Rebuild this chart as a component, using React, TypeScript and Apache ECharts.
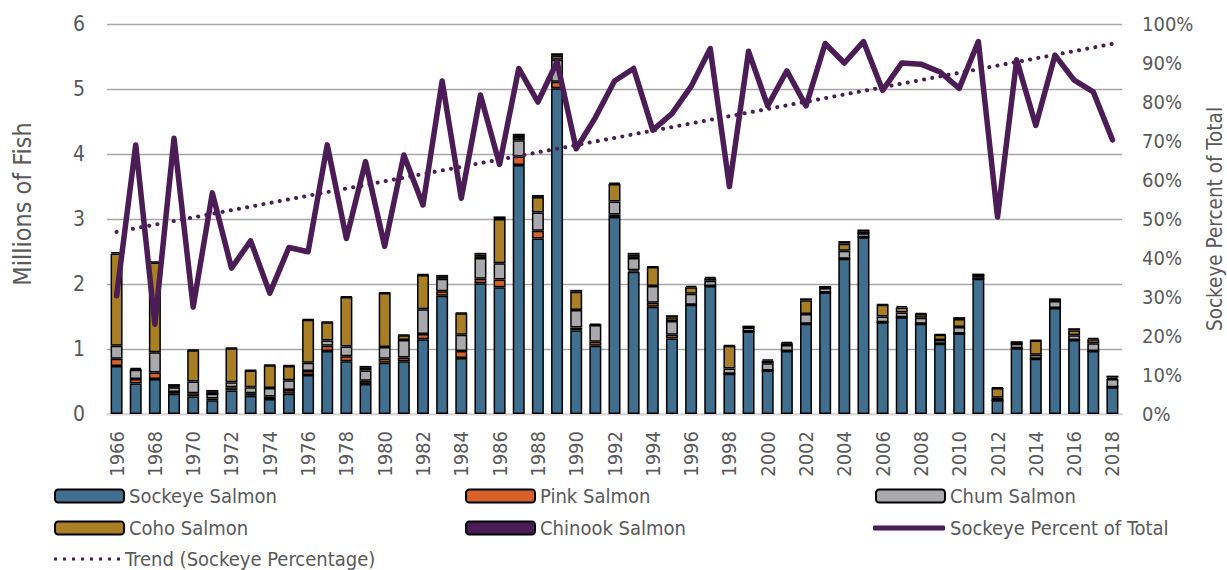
import React, { useEffect, useRef } from "react";
import * as echarts from "echarts";

const years: string[] = [];
for (let y = 1966; y <= 2018; y++) years.push(String(y));

const sockeye = [0.74, 0.47, 0.54, 0.31, 0.27, 0.21, 0.36, 0.28, 0.23, 0.31, 0.60, 0.97, 0.81, 0.46, 0.79, 0.81, 1.15, 1.82, 0.86, 2.01, 1.95, 3.83, 2.70, 5.01, 1.29, 1.05, 3.03, 2.19, 1.65, 1.16, 1.68, 1.97, 0.62, 1.27, 0.67, 0.97, 1.39, 1.87, 2.39, 2.72, 1.41, 1.49, 1.39, 1.08, 1.24, 2.08, 0.21, 1.01, 0.85, 1.63, 1.14, 0.97, 0.41];
const pink = [0.11, 0.07, 0.10, 0.03, 0.05, 0.03, 0.05, 0.04, 0.04, 0.06, 0.06, 0.08, 0.08, 0.05, 0.06, 0.06, 0.08, 0.07, 0.11, 0.07, 0.12, 0.13, 0.12, 0.10, 0.04, 0.06, 0.04, 0.02, 0.06, 0.06, 0, 0, 0, 0, 0, 0, 0, 0, 0, 0, 0, 0, 0, 0, 0, 0, 0, 0, 0, 0, 0, 0, 0];
const chum = [0.20, 0.14, 0.31, 0.07, 0.18, 0.07, 0.08, 0.09, 0.13, 0.15, 0.13, 0.08, 0.15, 0.16, 0.18, 0.27, 0.38, 0.19, 0.25, 0.32, 0.25, 0.25, 0.28, 0.34, 0.27, 0.26, 0.20, 0.19, 0.26, 0.21, 0.17, 0.08, 0.08, 0.06, 0.11, 0.09, 0.15, 0.07, 0.12, 0.06, 0.09, 0.07, 0.09, 0.06, 0.10, 0.05, 0.04, 0.07, 0.06, 0.11, 0.07, 0.12, 0.13];
const coho = [1.42, 0.01, 1.38, 0.01, 0.48, 0.0, 0.52, 0.26, 0.35, 0.22, 0.66, 0.28, 0.76, 0.04, 0.83, 0.07, 0.53, 0.03, 0.33, 0.05, 0.68, 0.05, 0.24, 0.06, 0.28, 0.0, 0.27, 0.05, 0.29, 0.06, 0.10, 0.04, 0.35, 0.0, 0.04, 0.03, 0.21, 0.0, 0.11, 0.0, 0.18, 0.08, 0.06, 0.08, 0.12, 0.0, 0.15, 0.0, 0.22, 0.0, 0.08, 0.06, 0.02];
const chinook = [0.02, 0.02, 0.02, 0.04, 0.01, 0.06, 0.01, 0.01, 0.01, 0.01, 0.01, 0.01, 0.01, 0.03, 0.01, 0.01, 0.01, 0.03, 0.01, 0.03, 0.04, 0.05, 0.03, 0.04, 0.03, 0.02, 0.02, 0.03, 0.01, 0.03, 0.02, 0.02, 0.01, 0.03, 0.02, 0.02, 0.03, 0.03, 0.04, 0.06, 0.01, 0.02, 0.01, 0.01, 0.03, 0.03, 0.01, 0.04, 0.01, 0.04, 0.03, 0.02, 0.03];
const sockeyePct = [30.3, 69, 23, 70.7, 27.4, 56.7, 37.4, 44.4, 31, 42.7, 41.6, 69, 45, 64.7, 43, 66.4, 53.6, 85.4, 55.3, 81.8, 64, 88.6, 80, 90.3, 68, 76, 85.4, 88.6, 72.8, 77, 84, 93.7, 58.3, 93, 79, 88, 79, 95, 90, 95.5, 83, 90, 89.7, 87.7, 83.5, 95.5, 50.5, 90.8, 74, 92, 85.6, 82.6, 70.3];
const trendStart = 46.7;
const trendEnd = 94.9;
const leftTicks = [0, 6, 1];
const rightTicks = [0, 100, 10];

const FONT = "'DejaVu Sans Condensed', 'Liberation Sans Narrow', sans-serif";
const TXT = "#595959";
const C_SOCK = "#3F6E8F";
const C_PINK = "#D8602A";
const C_CHUM = "#A9A9AD";
const C_COHO = "#A97F25";
const C_CHIN = "#4B1C55";

const DOTS_ICON =
  "path://" +
  [0, 9, 18, 27, 36, 45, 54, 63].map((x) => `M${x},0h3v3h-3z`).join(" ");

export default function App() {
  const ref = useRef<HTMLDivElement>(null);
  useEffect(() => {
    document.body.style.margin = "0";
    const chart = echarts.init(ref.current!, null, { renderer: "svg" });
    const trend = years.map((_, i) => (i === 0 ? trendStart : i === years.length - 1 ? trendEnd : null));
    const bar = (name: string, data: number[], c: string) => ({
      name,
      type: "bar",
      stack: "fish",
      barWidth: 12,
      data,
      itemStyle: { color: c, borderColor: "#000", borderWidth: 1.5 },
      emphasis: { disabled: true },
    });
    const legendBase = {
      itemWidth: 69,
      itemHeight: 13,
      padding: 0,
      textStyle: { fontFamily: FONT, fontSize: 20, color: TXT },
      selectedMode: false,
    };
    const option: any = {
      animation: false,
      grid: { left: 107, right: 105, top: 24, bottom: 156 },
      legend: [
        { ...legendBase, data: ["Sockeye Salmon"], left: 54, top: 486 },
        { ...legendBase, data: ["Pink Salmon"], left: 465, top: 486 },
        { ...legendBase, data: ["Chum Salmon"], left: 875, top: 486 },
        { ...legendBase, data: ["Coho Salmon"], left: 54, top: 518 },
        { ...legendBase, data: ["Chinook Salmon"], left: 465, top: 518 },
        {
          ...legendBase,
          data: [{ name: "Sockeye Percent of Total", icon: "roundRect" }],
          left: 873,
          top: 518,
          itemWidth: 72,
          itemHeight: 5,
        },
        {
          ...legendBase,
          data: [{ name: "Trend (Sockeye Percentage)", icon: DOTS_ICON }],
          left: 54,
          top: 549,
          itemWidth: 66,
          itemHeight: 3,
        },
      ],
      xAxis: {
        type: "category",
        data: years,
        boundaryGap: true,
        axisTick: { show: false },
        axisLine: { lineStyle: { color: "#D9D9D9", width: 2 } },
        axisLabel: { interval: 1, rotate: 90, margin: 17, fontFamily: FONT, fontSize: 20, color: TXT },
      },
      yAxis: [
        {
          type: "value",
          min: leftTicks[0],
          max: leftTicks[1],
          interval: leftTicks[2],
          axisLabel: { margin: 22, fontFamily: FONT, fontSize: 21, color: TXT },
          splitLine: { lineStyle: { color: "#A6A6A6", width: 1.4 } },
          axisLine: { show: false },
          axisTick: { show: false },
        },
        {
          type: "value",
          min: rightTicks[0],
          max: rightTicks[1],
          interval: rightTicks[2],
          axisLabel: { margin: 20, fontFamily: FONT, fontSize: 20, color: TXT, formatter: "{value}%" },
          splitLine: { show: false },
          axisLine: { show: false },
          axisTick: { show: false },
        },
      ],
      graphic: [
        {
          type: "text",
          x: 22,
          y: 204,
          rotation: Math.PI / 2,
          style: { text: "Millions of Fish", fontFamily: FONT, fontSize: 25, fill: TXT, textAlign: "center", textVerticalAlign: "middle" },
        },
        {
          type: "text",
          x: 1215,
          y: 219,
          rotation: Math.PI / 2,
          style: { text: "Sockeye Percent of Total", fontFamily: FONT, fontSize: 20.5, fill: TXT, textAlign: "center", textVerticalAlign: "middle" },
        },
      ],
      series: [
        bar("Sockeye Salmon", sockeye, C_SOCK),
        bar("Pink Salmon", pink, C_PINK),
        bar("Chum Salmon", chum, C_CHUM),
        bar("Coho Salmon", coho, C_COHO),
        bar("Chinook Salmon", chinook, C_CHIN),
        {
          name: "Sockeye Percent of Total",
          type: "line",
          yAxisIndex: 1,
          data: sockeyePct,
          symbol: "none",
          itemStyle: { color: C_CHIN },
          lineStyle: { color: C_CHIN, width: 5.5, cap: "round", join: "round" },
          emphasis: { disabled: true },
          z: 5,
        },
        {
          name: "Trend (Sockeye Percentage)",
          type: "line",
          yAxisIndex: 1,
          data: trend,
          connectNulls: true,
          symbol: "none",
          itemStyle: { color: C_CHIN },
          lineStyle: { color: C_CHIN, width: 4, type: [0.1, 8.2], cap: "round" },
          emphasis: { disabled: true },
          z: 4,
        },
      ],
    };
    chart.setOption(option);
    return () => chart.dispose();
  }, []);
  return <div ref={ref} style={{ width: 1227, height: 570 }} />;
}
